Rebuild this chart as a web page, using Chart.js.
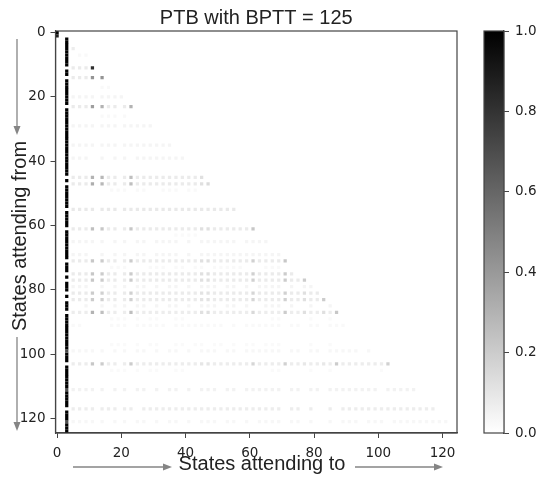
<!DOCTYPE html>
<html>
<head>
<meta charset="utf-8">
<title>PTB with BPTT = 125</title>
<script src="https://cdn.jsdelivr.net/npm/chart.js@4"></script>
<style>
    html, body { margin: 0; padding: 0; background: #fff; }
    #wrap { position: relative; width: 540px; height: 477px; overflow: hidden; }
    #wrap div { position: absolute; top: 0; height: 477px; }
    #heat-box { left: 0; width: 470px; }
    #bar-box { left: 470px; width: 70px; }
    canvas { display: block; filter: blur(0.55px); }
</style>
</head>
<body>
<div id="wrap">
    <div id="heat-box"><canvas id="heat" width="470" height="477"></canvas></div>
    <div id="bar-box"><canvas id="bar" width="70" height="477"></canvas></div>
</div>
<script>
// axis ticks
const xTicks = [0, 20, 40, 60, 80, 100, 120];
const yTicks = [0, 20, 40, 60, 80, 100, 120];
const barTicks = [0, 0.2, 0.4, 0.6, 0.8, 1];

// the black column at state 3, rows (gaps are where a row attends elsewhere)
const stripeColumn = 3;
const stripeRows = [2,3,4,5,6,7,8,9,10,12,13,15,16,17,18,19,20,21,22,24,25,26,27,28,29,30,31,32,33,34,35,36,37,38,39,40,41,42,43,44,46,
    48,49,50,51,52,53,54,56,57,58,59,60,62,63,64,65,66,67,68,69,70,72,73,74,76,78,79,80,82,84,85,86,
    88,89,90,91,92,93,94,95,96,97,98,100,101,102,104,105,106,107,108,109,110,112,113,114,115,116,118,119,120,122,123,124];
const stripeGreyRows = [99, 111, 121];
const stripeGreyValues = [0.72, 0.7, 0.7];

// top corner block
const cornerRows = [0, 1];
const cornerValues = [1, 0.88];

// faint dotted rows
const dotRows = [5, 7, 11, 14, 17, 20, 23, 26, 29, 35, 39, 45, 47, 49, 55, 61, 63, 65, 69, 71, 73, 75, 77, 79, 81, 83, 85, 87, 89, 91, 97, 99, 103, 105, 111, 117, 121];
const dotValues = [0.07, 0.025, 0.08, 0.08, 0.025, 0.04, 0.08, 0.025, 0.04, 0.04, 0.04, 0.08, 0.08, 0.025, 0.085, 0.08, 0.02, 0.04, 0.04, 0.08, 0.025, 0.08, 0.08, 0.04, 0.08, 0.08, 0.04, 0.07, 0.02, 0.025, 0.02, 0.03, 0.07, 0.02, 0.05, 0.07, 0.03];
const dotColumns = [
    [5],
    [7, 9],
    [5, 7, 9],
    [5, 7, 9],
    [14, 16],
    [5, 7, 9, 11, 14, 16, 18, 20],
    [5, 7, 9, 16, 18, 21],
    [14, 16, 18, 21],
    [5, 7, 9, 11, 14, 16, 18, 21, 23, 25, 27, 29],
    [5, 7, 9, 11, 14, 16, 18, 21, 23, 25, 27, 29, 31, 33, 35],
    [5, 7, 9, 14, 18, 21, 25, 27, 29, 31, 33, 35, 37, 39],
    [5, 7, 9, 16, 18, 21, 25, 27, 29, 31, 33, 35, 37, 39, 41, 43],
    [5, 7, 9, 16, 18, 21, 25, 27, 29, 31, 33, 35, 37, 39, 41, 43],
    [17, 19, 21, 25, 27, 33, 35, 37, 41, 43],
    [5, 7, 9, 11, 14, 16, 18, 21, 23, 25, 27, 29, 31, 33, 35, 37, 39, 41, 43, 45, 47, 49, 51, 53, 55],
    [5, 7, 9, 16, 18, 21, 25, 27, 29, 31, 33, 35, 37, 39, 41, 43, 49, 51, 53, 55, 57, 59],
    [37, 39, 41, 43],
    [5, 7, 9, 11, 14, 18, 21, 25, 27, 31, 33, 35, 37, 41, 45, 47, 49, 51, 53, 55, 59, 61, 63, 65],
    [5, 7, 9, 14, 18, 21, 25, 27, 31, 33, 35, 37, 41, 45, 47, 49, 51, 53, 55, 57, 59, 61, 63, 65, 67, 69],
    [5, 7, 9, 16, 18, 21, 25, 27, 29, 31, 33, 35, 37, 39, 41, 43, 49, 51, 53, 55, 57, 59, 63, 65, 67, 69],
    [17, 19, 21, 29, 31, 33, 37, 39, 43, 45, 49, 51, 53, 55, 57, 65, 67, 69],
    [5, 7, 9, 16, 18, 21, 25, 27, 29, 31, 33, 35, 37, 39, 41, 43, 49, 51, 53, 55, 57, 59, 63, 65, 67, 69, 73],
    [5, 7, 9, 16, 18, 21, 25, 27, 29, 31, 33, 35, 37, 39, 41, 43, 49, 51, 53, 55, 57, 59, 63, 65, 67, 69, 73, 75],
    [5, 7, 9, 14, 18, 21, 25, 27, 31, 35, 37, 41, 45, 47, 49, 53, 55, 59, 63, 65, 67, 69, 73, 77, 79],
    [5, 7, 9, 16, 18, 21, 25, 27, 29, 31, 33, 35, 37, 39, 41, 43, 49, 51, 53, 55, 57, 59, 63, 65, 67, 69, 73, 75, 79, 81],
    [5, 7, 9, 16, 18, 21, 25, 27, 29, 31, 33, 35, 37, 39, 41, 43, 49, 51, 53, 55, 57, 59, 63, 65, 67, 69, 73, 75, 79, 81],
    [9, 14, 18, 21, 25, 27, 31, 35, 37, 41, 45, 47, 49, 53, 55, 59, 65, 67, 69, 73, 79, 85],
    [5, 7, 9, 16, 18, 21, 25, 27, 29, 31, 33, 35, 37, 39, 41, 43, 49, 51, 53, 55, 57, 59, 63, 65, 67, 69, 73, 75, 79, 81, 85],
    [17, 19, 21, 25, 29, 31, 37, 39, 67, 69, 79, 85],
    [5, 7, 17, 19, 21, 25, 27, 29, 31, 33, 37, 39, 41, 43, 45, 47, 49, 51, 55, 59, 61, 63, 65, 67, 69, 73, 75, 79, 81, 85, 87, 89],
    [17, 19, 21, 25, 29, 31, 37, 39, 43, 45, 49, 51, 55, 59, 61, 65, 67, 69, 79, 85],
    [5, 7, 9, 11, 14, 18, 21, 25, 27, 31, 35, 37, 41, 45, 47, 49, 53, 55, 59, 61, 63, 65, 67, 69, 73, 75, 79, 81, 85, 87, 89, 91, 93, 97],
    [5, 7, 9, 16, 18, 21, 25, 27, 29, 31, 33, 35, 37, 39, 41, 43, 49, 51, 53, 55, 57, 59, 63, 65, 67, 69, 73, 75, 79, 81, 85, 89, 91, 93, 95, 97, 99, 101],
    [17, 19, 21, 25, 29, 31, 37, 39, 67, 69, 79, 85, 101],
    [5, 7, 9, 11, 14, 18, 21, 25, 27, 31, 35, 37, 41, 45, 47, 49, 53, 55, 59, 61, 63, 65, 67, 69, 73, 75, 79, 81, 85, 87, 89, 91, 93, 95, 97, 99, 103, 105, 107, 109, 111],
    [5, 7, 9, 11, 14, 16, 18, 21, 23, 27, 29, 31, 33, 35, 37, 39, 41, 43, 45, 47, 49, 51, 53, 55, 57, 59, 61, 63, 65, 67, 69, 73, 75, 79, 85, 89, 91, 93, 95, 97, 99, 101, 103, 105, 107, 109, 111, 113, 115, 117],
    [5, 7, 9, 11, 14, 18, 21, 25, 27, 31, 35, 37, 41, 45, 47, 49, 53, 55, 59, 63, 65, 67, 69, 73, 75, 79, 85, 89, 91, 93, 97, 99, 101, 105, 107, 109, 111, 113, 115, 117, 119, 121]
];

// darker dots in the columns that many rows attend to
const hotRows = [11, 14, 14, 23, 23, 23, 45, 45, 45, 45, 47, 47, 47, 47, 47, 61, 61, 61, 61, 61, 61, 71, 71, 71, 71, 71, 71, 71, 75, 75, 75, 75, 75, 75, 75, 77, 77, 77, 77, 77, 77, 77, 77, 81, 81, 81, 81, 81, 81, 81, 81, 83, 83, 83, 83, 83, 83, 83, 83, 83, 87, 87, 87, 87, 87, 87, 87, 87, 87, 87, 103, 103, 103, 103, 103, 103, 103, 103, 103, 103, 103];
const hotCols = [11, 11, 14, 11, 14, 23, 11, 14, 23, 45, 11, 14, 23, 45, 47, 11, 14, 23, 45, 47, 61, 11, 14, 23, 45, 47, 61, 71, 11, 14, 23, 45, 47, 61, 71, 11, 14, 23, 45, 47, 61, 71, 77, 11, 14, 23, 45, 47, 61, 71, 77, 11, 14, 23, 45, 47, 61, 71, 77, 83, 11, 14, 23, 45, 47, 61, 71, 77, 83, 87, 11, 14, 23, 45, 47, 61, 71, 77, 83, 87, 103];
const hotValues = [0.82, 0.42, 0.42, 0.38, 0.3, 0.3, 0.3, 0.28, 0.25, 0.12, 0.32, 0.28, 0.25, 0.12, 0.14, 0.25, 0.22, 0.22, 0.12, 0.12, 0.22, 0.22, 0.2, 0.2, 0.12, 0.12, 0.18, 0.22, 0.22, 0.2, 0.2, 0.12, 0.12, 0.18, 0.2, 0.22, 0.2, 0.2, 0.12, 0.12, 0.18, 0.2, 0.2, 0.2, 0.18, 0.18, 0.11, 0.11, 0.16, 0.18, 0.12, 0.2, 0.18, 0.18, 0.11, 0.11, 0.16, 0.18, 0.12, 0.2, 0.3, 0.25, 0.25, 0.12, 0.12, 0.15, 0.2, 0.12, 0.12, 0.22, 0.22, 0.2, 0.2, 0.1, 0.1, 0.16, 0.18, 0.09, 0.09, 0.2, 0.18];

const FONT_TICK = 'DejaVu Sans';
const FONT_TEXT = 'Liberation Sans';
const INK = '#222222';
const SPINE = '#444444';
const ARROW = '#858585';

function shade(v) {
    const g = Math.round(255 * (1 - v));
    return 'rgb(' + g + ',' + g + ',' + g + ')';
}

function cellPoints() {
    const pts = [];
    dotRows.forEach((row, i) => {
        dotColumns[i].forEach(col => pts.push({ x: col, y: row, v: dotValues[i] }));
    });
    hotRows.forEach((row, i) => pts.push({ x: hotCols[i], y: row, v: hotValues[i] }));
    cornerRows.forEach((row, i) => pts.push({ x: 0, y: row, v: cornerValues[i] }));
    stripeRows.forEach(row => pts.push({ x: stripeColumn, y: row, v: 1 }));
    stripeGreyRows.forEach((row, i) => pts.push({ x: stripeColumn, y: row, v: stripeGreyValues[i] }));
    return pts;
}

// frame on all four sides, like the image axes
const framePlugin = {
    id: 'frame',
    afterDraw(chart) {
        const a = chart.chartArea, ctx = chart.ctx;
        ctx.save();
        ctx.strokeStyle = SPINE;
        ctx.lineWidth = 1.2;
        ctx.strokeRect(a.left, a.top, a.right - a.left, a.bottom - a.top);
        ctx.restore();
    }
};

// axis labels sit off-centre in the original and overlap the tick labels, with grey arrows beside them
const labelPlugin = {
    id: 'labels',
    afterDraw(chart) {
        const ctx = chart.ctx;
        const arrows = [[73, 467, 172, 467], [355, 467, 443, 467], [17, 39, 17, 135], [17, 337, 17, 431]];
        ctx.save();
        ctx.strokeStyle = ARROW;
        ctx.fillStyle = ARROW;
        ctx.lineWidth = 1.3;
        arrows.forEach(([x0, y0, x1, y1]) => {
            const ang = Math.atan2(y1 - y0, x1 - x0);
            ctx.beginPath();
            ctx.moveTo(x0, y0);
            ctx.lineTo(x1 - 6 * Math.cos(ang), y1 - 6 * Math.sin(ang));
            ctx.stroke();
            ctx.beginPath();
            ctx.moveTo(x1, y1);
            ctx.lineTo(x1 - 9 * Math.cos(ang) - 3.5 * Math.sin(ang), y1 - 9 * Math.sin(ang) + 3.5 * Math.cos(ang));
            ctx.lineTo(x1 - 9 * Math.cos(ang) + 3.5 * Math.sin(ang), y1 - 9 * Math.sin(ang) - 3.5 * Math.cos(ang));
            ctx.closePath();
            ctx.fill();
        });
        ctx.fillStyle = '#222222';
        ctx.font = '20px "' + FONT_TEXT + '"';
        ctx.textAlign = 'center';
        ctx.textBaseline = 'middle';
        ctx.fillText('States attending to', 262, 464);
        ctx.translate(20, 236);
        ctx.rotate(-Math.PI / 2);
        ctx.fillText('States attending from', 0, 0);
        ctx.restore();
    }
};

const tickFont = { family: FONT_TICK, size: 13.5 };

new Chart(document.getElementById('heat'), {
    type: 'scatter',
    data: {
        datasets: [{
            data: cellPoints(),
            pointStyle: 'rect',
            pointRadius: 2.3,
            pointHoverRadius: 2.3,
            borderWidth: 0,
            pointBorderWidth: 0,
            pointBackgroundColor: ctx => shade(ctx.raw.v)
        }]
    },
    options: {
        responsive: false,
        animation: false,
        layout: { padding: { left: 0, right: 13, top: 0, bottom: 0 } },
        plugins: {
            legend: { display: false },
            tooltip: { enabled: false },
            title: {
                display: true,
                fullSize: false,
                text: 'PTB with BPTT = 125',
                color: '#222222',
                font: { family: FONT_TEXT, size: 20, weight: 'normal' },
                padding: { top: 6, bottom: 1 }
            }
        },
        scales: {
            x: {
                type: 'linear',
                min: -0.5,
                max: 124.5,
                afterBuildTicks: s => { s.ticks = xTicks.map(v => ({ value: v })); },
                afterFit: s => { s.height = 44; },
                ticks: { color: INK, font: tickFont, maxRotation: 0, padding: 7 },
                grid: { drawOnChartArea: false, drawTicks: true, tickLength: 5, color: SPINE },
                border: { color: SPINE, width: 1.2 }
            },
            y: {
                type: 'linear',
                reverse: true,
                min: -0.5,
                max: 124.5,
                afterBuildTicks: s => { s.ticks = yTicks.map(v => ({ value: v })); },
                afterFit: s => { s.width = 55.5; },
                ticks: { color: INK, font: tickFont, padding: 5 },
                grid: { drawOnChartArea: false, drawTicks: true, tickLength: 5, color: SPINE },
                border: { color: SPINE, width: 1.2 }
            }
        }
    },
    plugins: [framePlugin, labelPlugin]
});

new Chart(document.getElementById('bar'), {
    type: 'bar',
    data: {
        labels: [''],
        datasets: [{
            data: [[barTicks[0], barTicks[barTicks.length - 1]]],
            barPercentage: 1,
            categoryPercentage: 1,
            backgroundColor: ctx => {
                const area = ctx.chart.chartArea;
                if (!area) return '#888';
                const g = ctx.chart.ctx.createLinearGradient(0, area.bottom, 0, area.top);
                g.addColorStop(0, shade(0));
                g.addColorStop(1, shade(1));
                return g;
            }
        }]
    },
    options: {
        responsive: false,
        animation: false,
        layout: { padding: { left: 14, right: 0, top: 31, bottom: 44 } },
        plugins: { legend: { display: false }, tooltip: { enabled: false } },
        scales: {
            x: { display: false },
            y: {
                position: 'right',
                min: 0,
                max: 1,
                afterBuildTicks: s => { s.ticks = barTicks.map(v => ({ value: v })); },
                afterFit: s => { s.width = 36; },
                ticks: { color: INK, font: tickFont, padding: 6, callback: v => v.toFixed(1) },
                grid: { drawOnChartArea: false, drawTicks: true, tickLength: 5, color: SPINE },
                border: { color: SPINE, width: 1.2 }
            }
        }
    },
    plugins: [framePlugin]
});
</script>
</body>
</html>
